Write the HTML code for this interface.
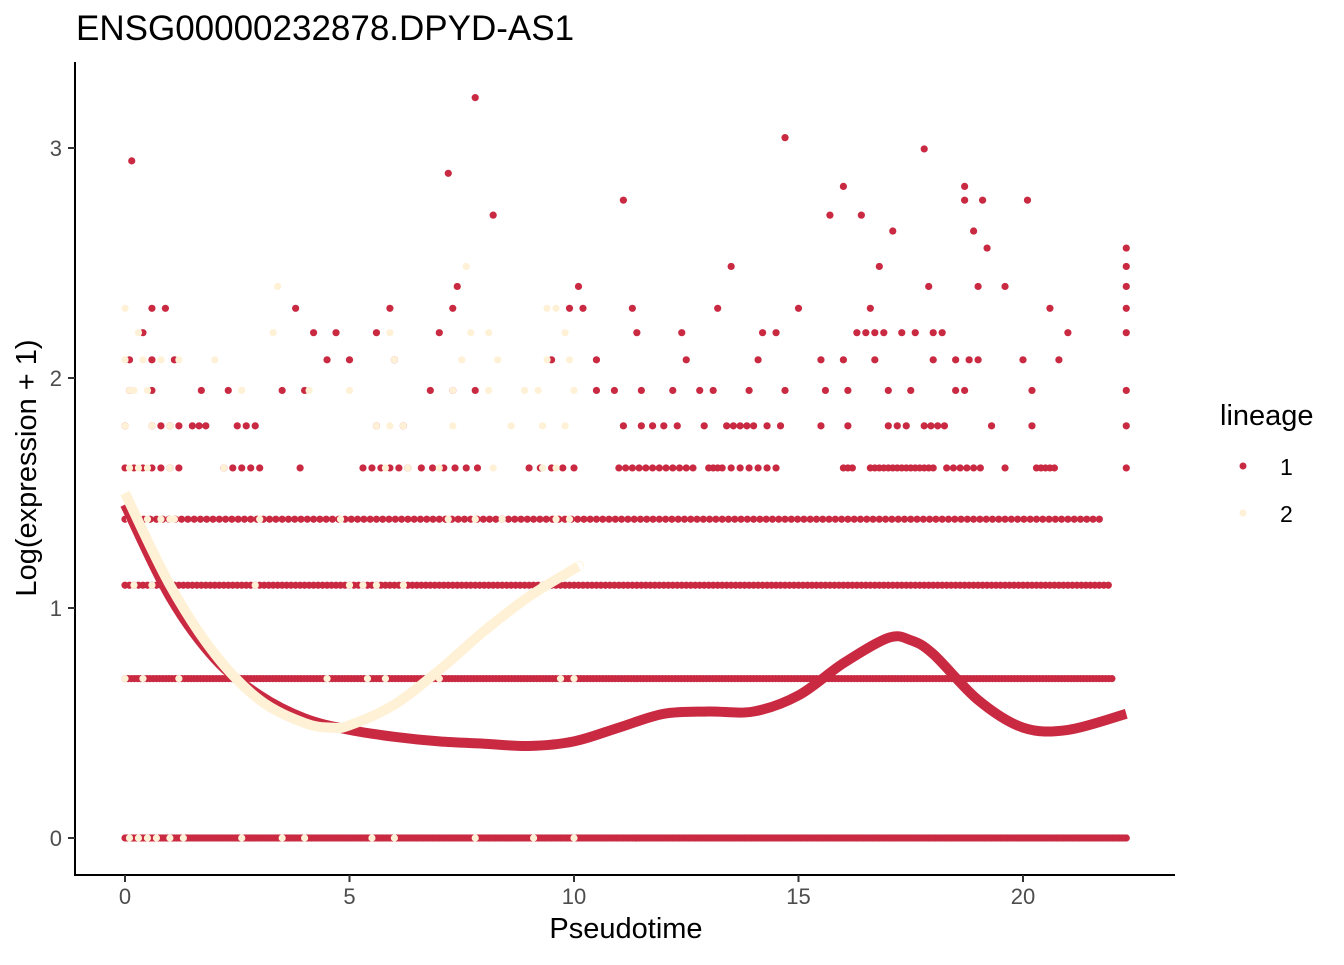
<!DOCTYPE html>
<html><head><meta charset="utf-8"><style>
body{margin:0;background:#fff;font-family:"Liberation Sans",Arial,sans-serif}
svg text{font-family:"Liberation Sans",Arial,sans-serif}
</style></head><body>
<svg id="chart" width="1344" height="960" xmlns="http://www.w3.org/2000/svg">
<text x="76" y="40" font-size="35" fill="#000">ENSG00000232878.DPYD-AS1</text>
<g id="pts"></g>
<g id="curves"></g>
<line x1="75" y1="62" x2="75" y2="876" stroke="#000" stroke-width="2"/>
<line x1="74" y1="875" x2="1175" y2="875" stroke="#000" stroke-width="2"/>
<g id="axes"></g>
<text x="626" y="938" font-size="29" text-anchor="middle">Pseudotime</text>
<text transform="translate(36,468) rotate(-90)" font-size="29" text-anchor="middle">Log(expression + 1)</text>
<g>
<text x="1220" y="425" font-size="29">lineage</text>
<circle cx="1243" cy="466" r="3.5" fill="#C92A42"/>
<text x="1280" y="475" font-size="23">1</text>
<circle cx="1243" cy="513" r="3.5" fill="#FFF1D6"/>
<text x="1280" y="522" font-size="23">2</text>
</g>
</svg>
<script>
const xTicks=[0,5,10,15,20];
const yTicks=[0,1,2,3];
// dense runs: [level, start, end, step]
const runs1=[[0,0,22.3,0.05],[0.693,0,22.0,0.07],[1.099,0,21.9,0.1],[1.386,0,21.8,0.14],
[1.609,0,1.3,0.2],[1.609,2.2,3.0,0.2],[1.609,5.3,6.3,0.2],[1.609,6.6,8.0,0.25],[1.609,9.0,10.1,0.25],[1.609,11.0,12.7,0.15],[1.609,13.0,13.3,0.1],[1.609,13.5,14.6,0.2],[1.609,16.0,16.2,0.1],[1.609,16.6,18.0,0.1],[1.609,18.3,19.1,0.15],[1.609,20.3,20.7,0.1],
[1.792,0.6,1.2,0.2],[1.792,1.5,1.8,0.15],[1.792,2.5,2.9,0.2],[1.792,11.5,12.0,0.25],[1.792,13.4,14.0,0.15],[1.792,17.0,17.4,0.2],[1.792,17.8,18.3,0.15]];
const pts1=[[0,1.792],[5.6,1.792],[6.2,1.792],[11.1,1.792],[12.3,1.792],[12.9,1.792],[14.3,1.792],[14.6,1.792],[15.5,1.792],[16.1,1.792],[19.3,1.792],[20.2,1.792],[22.3,1.792],[3.9,1.609],[19.6,1.609],[22.3,1.609],
[0.1,1.946],[0.6,1.946],[1.7,1.946],[2.3,1.946],[3.5,1.946],[4.0,1.946],[6.8,1.946],[7.3,1.946],[7.8,1.946],[10.5,1.946],[10.9,1.946],[11.5,1.946],[12.2,1.946],[12.8,1.946],[13.1,1.946],[13.9,1.946],[14.7,1.946],[15.6,1.946],[16.1,1.946],[17.0,1.946],[17.5,1.946],[18.5,1.946],[18.7,1.946],[20.2,1.946],[22.3,1.946],
[0.1,2.079],[0.6,2.079],[1.1,2.079],[4.5,2.079],[5.0,2.079],[6.0,2.079],[9.5,2.079],[10.5,2.079],[12.5,2.079],[14.1,2.079],[15.5,2.079],[16.0,2.079],[16.7,2.079],[18.0,2.079],[18.5,2.079],[18.8,2.079],[19.0,2.079],[20.0,2.079],[20.8,2.079],
[0.4,2.197],[4.2,2.197],[4.7,2.197],[5.6,2.197],[7.0,2.197],[11.4,2.197],[12.4,2.197],[14.2,2.197],[14.5,2.197],[16.3,2.197],[16.5,2.197],[16.7,2.197],[16.9,2.197],[17.3,2.197],[17.6,2.197],[18.0,2.197],[18.2,2.197],[21.0,2.197],[22.3,2.197],
[0.6,2.303],[0.9,2.303],[3.8,2.303],[5.9,2.303],[7.3,2.303],[9.9,2.303],[10.2,2.303],[11.3,2.303],[13.2,2.303],[15.0,2.303],[16.6,2.303],[20.6,2.303],[22.3,2.303],
[7.4,2.398],[10.1,2.398],[17.9,2.398],[19.0,2.398],[19.6,2.398],[22.3,2.398],[13.5,2.485],[16.8,2.485],[22.3,2.485],[19.2,2.565],[22.3,2.565],[17.1,2.639],[18.9,2.639],[8.2,2.708],[15.7,2.708],[16.4,2.708],[11.1,2.773],[18.7,2.773],[19.1,2.773],[20.1,2.773],[16.0,2.833],[18.7,2.833],[7.2,2.890],[0.15,2.944],[17.8,2.996],[14.7,3.045],[7.8,3.219]];
const pts2=[[0.1,0],[0.3,0],[0.5,0],[0.7,0],[1.0,0],[1.3,0],[2.6,0],[3.5,0],[4.0,0],[5.5,0],[6.0,0],[7.8,0],[9.1,0],[10,0],
[0,0.693],[0.4,0.693],[1.2,0.693],[2.5,0.693],[4.5,0.693],[5.4,0.693],[5.8,0.693],[7.0,0.693],[9.7,0.693],[10,0.693],
[0.2,1.099],[0.6,1.099],[1.0,1.099],[2.9,1.099],[5.0,1.099],[5.3,1.099],[5.6,1.099],[6.2,1.099],[9.3,1.099],
[0.1,1.386],[0.5,1.386],[0.8,1.386],[1.0,1.386],[1.1,1.386],[3.0,1.386],[4.8,1.386],[7.2,1.386],[7.8,1.386],[8.4,1.386],[9.6,1.386],[9.9,1.386],
[0.1,1.609],[0.3,1.609],[0.5,1.609],[1.0,1.609],[2.2,1.609],[5.8,1.609],[6.3,1.609],[7.0,1.609],[8.2,1.609],[9.3,1.609],[9.6,1.609],
[0.0,1.792],[0.6,1.792],[1.0,1.792],[5.6,1.792],[5.9,1.792],[6.2,1.792],[7.3,1.792],[8.6,1.792],[9.3,1.792],[9.8,1.792],
[0.1,1.946],[0.2,1.946],[0.5,1.946],[2.6,1.946],[4.1,1.946],[5.0,1.946],[7.3,1.946],[8.1,1.946],[8.9,1.946],[9.2,1.946],[10.0,1.946],
[0.0,2.079],[0.4,2.079],[0.8,2.079],[1.2,2.079],[2.0,2.079],[6.0,2.079],[7.5,2.079],[8.3,2.079],[9.4,2.079],[9.9,2.079],
[0.3,2.197],[3.3,2.197],[5.9,2.197],[7.7,2.197],[8.1,2.197],[9.8,2.197],[0.0,2.303],[9.4,2.303],[9.6,2.303],[3.4,2.398],[7.6,2.485]];
const curve1X=[0,1,2,3,4,5,6,7,8,9,10,11,12,13,14,15,16,17,17.5,18,19,20,21,22.3];
const curve1Y=[1.45,1.05,0.78,0.62,0.52,0.47,0.44,0.42,0.41,0.40,0.42,0.48,0.54,0.55,0.55,0.62,0.76,0.87,0.86,0.80,0.60,0.48,0.47,0.54];
const curve2X=[0,1,2,3,4,4.6,5,6,7,8,9,10,10.1];
const curve2Y=[1.5,1.1,0.8,0.6,0.5,0.48,0.49,0.58,0.73,0.9,1.05,1.17,1.18];
const RED="#C92A42",BEIGE="#FFF1D6",NS="http://www.w3.org/2000/svg";
const sx=v=>125+v*44.9, sy=v=>838-v*230;
const axes=document.getElementById('axes');
xTicks.forEach(t=>{const l=document.createElementNS(NS,'line');l.setAttribute('x1',sx(t));l.setAttribute('x2',sx(t));l.setAttribute('y1',875);l.setAttribute('y2',882);l.setAttribute('stroke','#333');l.setAttribute('stroke-width',2);

axes.appendChild(l);
const tx=document.createElementNS(NS,'text');tx.setAttribute('x',sx(t));tx.setAttribute('y',904);tx.setAttribute('text-anchor','middle');tx.setAttribute('font-size',22);tx.setAttribute('fill','#4d4d4d');tx.textContent=t;

axes.appendChild(tx);});
yTicks.forEach(t=>{const l=document.createElementNS(NS,'line');l.setAttribute('x1',68);l.setAttribute('x2',75);l.setAttribute('y1',sy(t));l.setAttribute('y2',sy(t));l.setAttribute('stroke','#333');l.setAttribute('stroke-width',2);

axes.appendChild(l);
const tx=document.createElementNS(NS,'text');tx.setAttribute('x',62);tx.setAttribute('y',sy(t)+8);tx.setAttribute('text-anchor','end');tx.setAttribute('font-size',22);tx.setAttribute('fill','#4d4d4d');tx.textContent=t;

axes.appendChild(tx);});
const g=document.getElementById('pts');
function dot(x,y,c,name){const e=document.createElementNS(NS,'circle');e.setAttribute('cx',sx(x));e.setAttribute('cy',sy(y));e.setAttribute('r',3.6);e.setAttribute('fill',c);

g.appendChild(e);}
runs1.forEach(r=>{for(let x=r[1];x<=r[2]+1e-9;x+=r[3])dot(x,r[0],RED,'point-lineage-1');});
pts1.forEach(p=>dot(p[0],p[1],RED,'point-lineage-1'));
pts2.forEach(p=>dot(p[0],p[1],BEIGE,'point-lineage-2'));
function smooth(xs,ys){const P=xs.map((x,i)=>[sx(x),sy(ys[i])]);let d='M'+P[0][0]+','+P[0][1];
for(let i=0;i<P.length-1;i++){const p0=P[Math.max(i-1,0)],p1=P[i],p2=P[i+1],p3=P[Math.min(i+2,P.length-1)];
d+=' C'+(p1[0]+(p2[0]-p0[0])/6)+','+(p1[1]+(p2[1]-p0[1])/6)+' '+(p2[0]-(p3[0]-p1[0])/6)+','+(p2[1]-(p3[1]-p1[1])/6)+' '+p2[0]+','+p2[1];}return d;}
const cg=document.getElementById('curves');
[[curve1X,curve1Y,RED,'curve-lineage-1'],[curve2X,curve2Y,BEIGE,'curve-lineage-2']].forEach(c=>{const p=document.createElementNS(NS,'path');p.setAttribute('d',smooth(c[0],c[1]));p.setAttribute('fill','none');p.setAttribute('stroke',c[2]);p.setAttribute('stroke-width',10);

cg.appendChild(p);});
</script>
</body></html>
